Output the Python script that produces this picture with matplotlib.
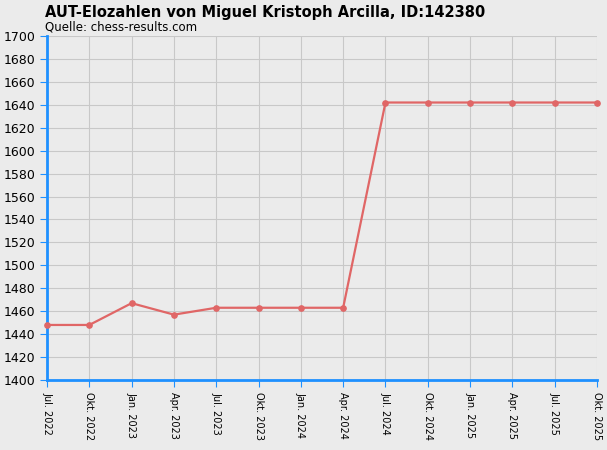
import matplotlib
matplotlib.use("Agg")
import matplotlib.pyplot as plt

labels = ["Jul. 2022","Okt. 2022","Jan. 2023","Apr. 2023","Jul. 2023","Okt. 2023","Jan. 2024","Apr. 2024",
          "Jul. 2024","Okt. 2024","Jan. 2025","Apr. 2025","Jul. 2025","Okt. 2025"]
elo = [1448,1448,1467,1457,1463,1463,1463,1463,1642,1642,1642,1642,1642,1642]

fig = plt.figure(figsize=(6.07,4.5), dpi=100, facecolor="#ebebeb")
ax = fig.add_axes([47/607, 70/450, 550/607, 344/450], facecolor="#ebebeb")
x = list(range(len(labels)))
ax.plot(x, elo, color="#e06666", lw=1.6, marker="o", ms=3.8, zorder=3, clip_on=False)
ax.set_xlim(0, len(labels)-1)
ax.set_ylim(1400, 1700)
ax.set_yticks(range(1400, 1701, 20))
ax.set_xticks(x)
ax.set_xticklabels(labels, rotation=270, fontsize=7)
ax.tick_params(axis="y", labelsize=9, color="#1e90ff", length=5)
ax.tick_params(axis="x", color="#1e90ff", length=5)
ax.grid(True, color="#c8c8c8", lw=0.8)
for s in ["top","right"]:
    ax.spines[s].set_visible(False)
for s in ["left","bottom"]:
    ax.spines[s].set_color("#1e90ff")
    ax.spines[s].set_linewidth(2)
fig.text(45/607, 1-12/450, "AUT-Elozahlen von Miguel Kristoph Arcilla, ID:142380", fontsize=10.5, fontweight="bold", va="center")
fig.text(45/607, 1-27/450, "Quelle: chess-results.com", fontsize=8.5, va="center")
fig.savefig("out.png", dpi=100, facecolor="#ebebeb")
